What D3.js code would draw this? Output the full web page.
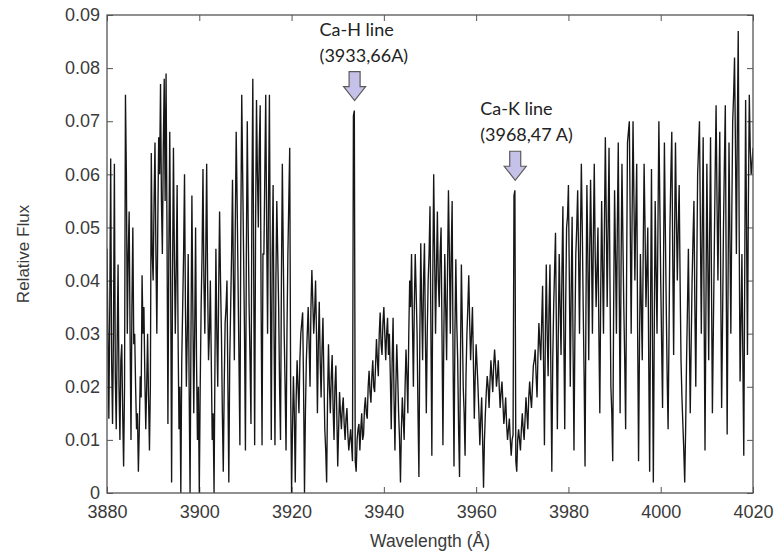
<!DOCTYPE html>
<html><head><meta charset="utf-8">
<script src="https://cdn.jsdelivr.net/npm/d3@7"></script>
<style>html,body{margin:0;padding:0;background:#fff;} svg{display:block}</style>
</head><body><svg id="chart" width="779" height="554"></svg>
<script>
// ---- data ----
const xTicks = [3880, 3900, 3920, 3940, 3960, 3980, 4000, 4020];
const yTicks = [0, 0.01, 0.02, 0.03, 0.04, 0.05, 0.06, 0.07, 0.08, 0.09];
const yTickLabels = ["0", "0.01", "0.02", "0.03", "0.04", "0.05", "0.06", "0.07", "0.08", "0.09"];
// spectrum sampled every 0.4 Å from 3880 Å ...
const lambdaStart = 3880, lambdaStep = 0.4;
const flux = [
 .046,.014,.063,.013,.062, .012,.043,.010,.028,.005, .075,.030,.053,.010,.050, .030,.012,.004,.022,.041,
 .035,.012,.030,.008,.064, .040,.066,.030,.067,.077, .045,.078,.079,.013,.068, .002,.065,.030,.058,.012,
 .000,.035,.060,.020,.045, .000,.056,.015,.050,.010, .000,.035,.061,.030,.062, .025,.040,.010,.000,.046,
 .020,.053,.030,.004,.032, .040,.002,.035,.059,.025, .068,.040,.009,.075,.045, .008,.070,.035,.013,.078,
 .009,.074,.050,.073,.009, .045,.075,.030,.075,.010, .058,.009,.055,.035,.010, .062,.030,.008,.045,.065,
 .000,.022,.002,.025,.015, .030,.034,.000,.025,.035, .020,.042,.030,.040,.015, .036,.018,.033,.012,.002,
 .028,.015,.026,.010,.024, .005,.019,.012,.018,.010, .016,.008,.012,.006,.072, .004,.012,.008,.015,.011,
 .018,.014,.023,.017,.025, .019,.029,.022,.034,.026, .035,.025,.033,.030,.012, .033,.008,.028,.015,.002,
 .018,.010,.027,.015,.040, .045,.020,.045,.030,.003, .047,.025,.047,.015,.040, .054,.007,.060,.030,.053,
 .035,.050,.009,.045,.025, .057,.030,.055,.005,.044, .025,.003,.043,.020,.007, .030,.041,.025,.035,.014,
 .028,.020,.009,.018,.001, .015,.022,.016,.025,.019, .027,.020,.025,.016,.021, .013,.018,.010,.014,.007,
 .011,.057,.004,.012,.008, .015,.010,.018,.012,.021, .016,.024,.027,.018,.032, .025,.039,.009,.043,.022,
 .043,.004,.035,.049,.012, .045,.026,.054,.012,.050, .058,.020,.052,.008,.045, .057,.030,.062,.035,.005,
 .058,.025,.059,.030,.062, .035,.050,.015,.055,.030, .067,.035,.065,.020,.006, .057,.030,.066,.015,.062,
 .035,.012,.066,.070,.030, .070,.040,.062,.006,.045, .025,.062,.035,.050,.004, .061,.002,.055,.030,.070,
 .040,.016,.066,.035,.012, .050,.068,.026,.066,.040, .058,.025,.013,.002,.025, .046,.015,.040,.055,.020,
 .060,.070,.030,.067,.008, .062,.025,.067,.015,.045, .073,.040,.068,.016,.050, .073,.011,.066,.030,.070,
 .082,.045,.087,.021,.045, .007,.074,.026,.075,.060, .065
];
// ... and the samples in between (3880.2 Å, 3880.6 Å, ...)
const fluxMid = [
 .030,.035,.025,.030,.022, .028,.020,.025,.015,.020, .060,.045,.030,.035,.028, .020,.015,.012,.018,.030,
 .022,.020,.018,.020,.045, .055,.045,.050,.060,.055, .065,.055,.050,.045,.040, .040,.045,.042,.030,.020,
 .025,.045,.035,.030,.020, .030,.035,.030,.025,.020, .020,.045,.040,.045,.040, .030,.025,.015,.025,.030,
 .038,.040,.015,.020,.035, .020,.025,.045,.040,.050, .055,.025,.050,.060,.030, .045,.050,.025,.055,.040,
 .050,.060,.065,.035,.045, .060,.050,.055,.040,.045, .030,.040,.045,.020,.040, .045,.020,.030,.055,.020,
 .012,.015,.018,.020,.025, .032,.020,.015,.030,.028, .035,.036,.034,.030,.028, .025,.027,.022,.008,.018,
 .020,.022,.016,.020,.015, .012,.015,.016,.013,.014, .011,.010,.009,.071,.006, .010,.013,.012,.010,.016,
 .015,.020,.019,.022,.020, .024,.025,.030,.028,.032, .030,.030,.026,.022,.025, .018,.020,.022,.010,.012,
 .014,.020,.022,.030,.035, .032,.035,.038,.015,.030, .035,.040,.030,.030,.045, .030,.040,.045,.042,.040,
 .045,.030,.030,.035,.042, .045,.045,.025,.030,.032, .012,.025,.032,.015,.022, .035,.032,.030,.025,.022,
 .024,.015,.014,.010,.010, .019,.020,.021,.022,.024, .024,.022,.020,.019,.017, .015,.013,.012,.010,.010,
 .056,.006,.010,.010,.012, .012,.014,.015,.018,.018, .020,.025,.022,.026,.028, .032,.025,.030,.030,.035,
 .022,.025,.042,.030,.030, .035,.042,.030,.035,.052, .040,.038,.028,.030,.050, .045,.048,.050,.022,.035,
 .045,.045,.046,.048,.045, .042,.030,.038,.042,.050, .052,.050,.040,.015,.035, .045,.050,.040,.042,.048,
 .025,.040,.068,.050,.052, .055,.052,.030,.028,.035, .045,.050,.042,.025,.035, .030,.030,.042,.050,.055,
 .028,.042,.050,.022,.030, .060,.045,.048,.052,.050, .040,.018,.008,.012,.035, .030,.028,.048,.035,.040,
 .065,.050,.050,.035,.035, .045,.048,.040,.030,.060, .055,.055,.040,.032,.062, .040,.040,.048,.052,.075,
 .065,.068,.050,.032,.025, .040,.050,.055,.065,.062
];
const lineNames = ["Ca-H line", "Ca-K line"];
const lineLabels = ["(3933,66A)", "(3968,47 A)"];
const lineWavelengths = [3933.66, 3968.47];
const linePeakFlux = [0.072, 0.057];

// ---- chart ----
const svg = d3.select("#chart");
const x = d3.scaleLinear().domain([3880, 4020]).range([107, 753]);
const y = d3.scaleLinear().domain([0, 0.09]).range([493, 15]);
const data = flux.map((f, i) => ({ w: lambdaStart + i * lambdaStep, f }))
  .concat(fluxMid.map((f, i) => ({ w: lambdaStart + (i + 0.5) * lambdaStep, f })))
  .sort((a, b) => a.w - b.w);

svg.append("defs").append("clipPath").attr("id", "plotclip")
  .append("rect").attr("x", x.range()[0]).attr("y", y.range()[1])
  .attr("width", x.range()[1] - x.range()[0]).attr("height", y.range()[0] - y.range()[1]);

const axisColor = "#555";
const textColor = "#3a3a3a";
const tickFont = "'Liberation Sans', Arial, Helvetica, sans-serif";

function styleAxis(g, showLabels) {
  g.select(".domain").remove();
  g.attr("font-family", null).attr("font-size", null);
  g.selectAll(".tick line").attr("stroke", axisColor).attr("stroke-width", 1);
  g.selectAll(".tick text").attr("fill", textColor).style("font-family", tickFont).style("font-size", "18px");
  if (!showLabels) g.selectAll(".tick text").remove();
}

svg.append("g").attr("transform", `translate(0,${y(0)})`)
  .call(d3.axisBottom(x).tickValues(xTicks).tickFormat(d3.format("d")).tickSizeInner(-6).tickSizeOuter(0).tickPadding(12))
  .call(g => styleAxis(g, true));
svg.append("g").attr("transform", `translate(0,${y(0.09)})`)
  .call(d3.axisTop(x).tickValues(xTicks).tickSizeInner(-6).tickSizeOuter(0))
  .call(g => styleAxis(g, false));
svg.append("g").attr("transform", `translate(${x(3880)},0)`)
  .call(d3.axisLeft(y).tickValues(yTicks).tickFormat((d, i) => yTickLabels[i]).tickSizeInner(-6).tickSizeOuter(0).tickPadding(7))
  .call(g => styleAxis(g, true));
svg.append("g").attr("transform", `translate(${x(4020)},0)`)
  .call(d3.axisRight(y).tickValues(yTicks).tickSizeInner(-6).tickSizeOuter(0))
  .call(g => styleAxis(g, false));

// spectrum
svg.append("path").datum(data)
  .attr("clip-path", "url(#plotclip)")
  .attr("fill", "none").attr("stroke", "#161616").attr("stroke-width", 1.35)
  .attr("stroke-linejoin", "miter")
  .attr("d", d3.line().x(d => x(d.w)).y(d => y(d.f)));

// frame
svg.append("rect")
  .attr("x", x(3880)).attr("y", y(0.09))
  .attr("width", x(4020) - x(3880)).attr("height", y(0) - y(0.09))
  .attr("fill", "none").attr("stroke", axisColor).attr("stroke-width", 1.3);

// axis titles
svg.append("text").attr("x", (x(3880) + x(4020)) / 2).attr("y", 547)
  .attr("text-anchor", "middle").attr("fill", textColor)
  .style("font-family", tickFont).style("font-size", "17.5px").text("Wavelength (Å)");
svg.append("text").attr("transform", `translate(29,${(y(0) + y(0.09)) / 2}) rotate(-90)`)
  .attr("text-anchor", "middle").attr("fill", textColor)
  .style("font-family", tickFont).style("font-size", "17px").text("Relative Flux");

// annotations
lineWavelengths.forEach((w, i) => {
  const cx = x(w);
  const tip = y(linePeakFlux[i]) - 10;
  const g = svg.append("g");
  g.append("path")
    .attr("d", `M${cx - 5.5},${tip - 29} L${cx + 5.5},${tip - 29} L${cx + 5.5},${tip - 14} L${cx + 11},${tip - 14} L${cx},${tip} L${cx - 11},${tip - 14} L${cx - 5.5},${tip - 14} Z`)
    .attr("fill", "#c6c1e8").attr("stroke", "#5a5a5a").attr("stroke-width", 1.2).attr("stroke-linejoin", "miter");
  g.append("text").attr("x", cx - 35).attr("y", tip - 65)
    .attr("fill", "#222").style("font-family", "Lato, 'Open Sans', sans-serif").style("font-size", "18px")
    .text(lineNames[i]);
  g.append("text").attr("x", cx - 35).attr("y", tip - 39)
    .attr("fill", "#222").style("font-family", "Lato, 'Open Sans', sans-serif").style("font-size", "18px")
    .text(lineLabels[i]);
});
</script>
</body></html>
